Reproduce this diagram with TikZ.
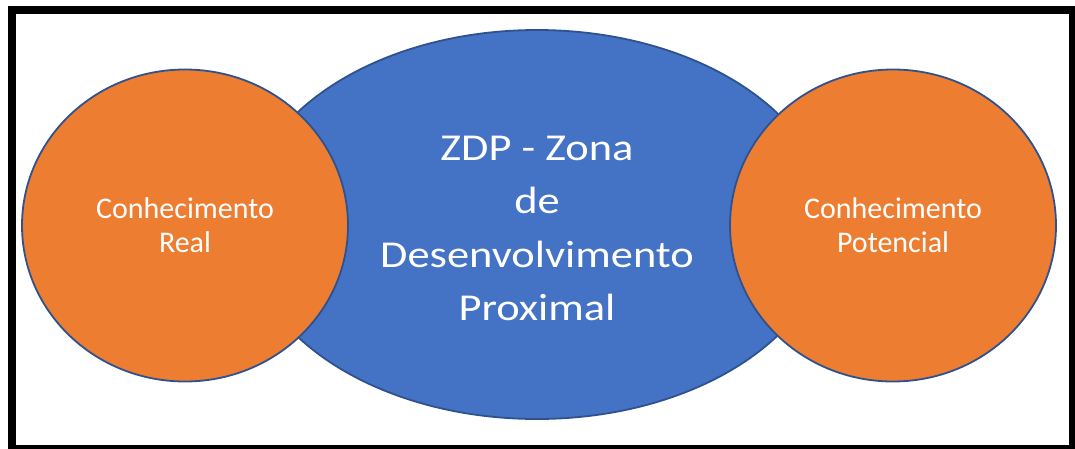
\documentclass[tikz,border=0pt]{standalone}
\usepackage{fontspec}
\setmainfont{Carlito}
\newfontfamily\centrefont[FakeStretch=1.17]{Carlito}
\usetikzlibrary{shapes.geometric}
\definecolor{offorange}{HTML}{ED7D31}
\definecolor{offblue}{HTML}{4472C4}
\definecolor{offline}{HTML}{2F528F}
\tikzset{
  blob/.style={ellipse, draw=offline, line width=1.8pt, inner sep=0pt, text=white, align=center},
  knowbox/.style={blob, fill=offorange, minimum width=326pt, minimum height=312pt,
     font=\fontsize{30}{34}\selectfont},
  zdpbox/.style={blob, fill=offblue, minimum width=586pt, minimum height=389pt},
  zdptextstyle/.style={text=white, align=center, inner sep=0pt,
     font=\centrefont\fontsize{38}{53.5}\selectfont},
  frame/.style={draw=black, line width=8pt}
}
\begin{document}
\begin{tikzpicture}[x=1pt,y=-1pt]
\useasboundingbox (0,0) rectangle (1075,448);
\fill[white] (0,0) rectangle (1075,448);
\node[zdpbox] (zdp) at (537,224.5) {};
\node[zdptextstyle] (zdptext) at ([yshift=-4pt]zdp.center) {ZDP - Zona\\de\\Desenvolvimento\\Proximal};
\node[knowbox] (real) at (185,225.5) {Conhecimento\\Real};
\node[knowbox] (pot) at (893,225.5) {Conhecimento\\Potencial};
\coordinate (ftl) at (12,10);
\coordinate (fbr) at (1073,449);
\draw[frame] (ftl) rectangle (fbr);
\end{tikzpicture}
\end{document}
